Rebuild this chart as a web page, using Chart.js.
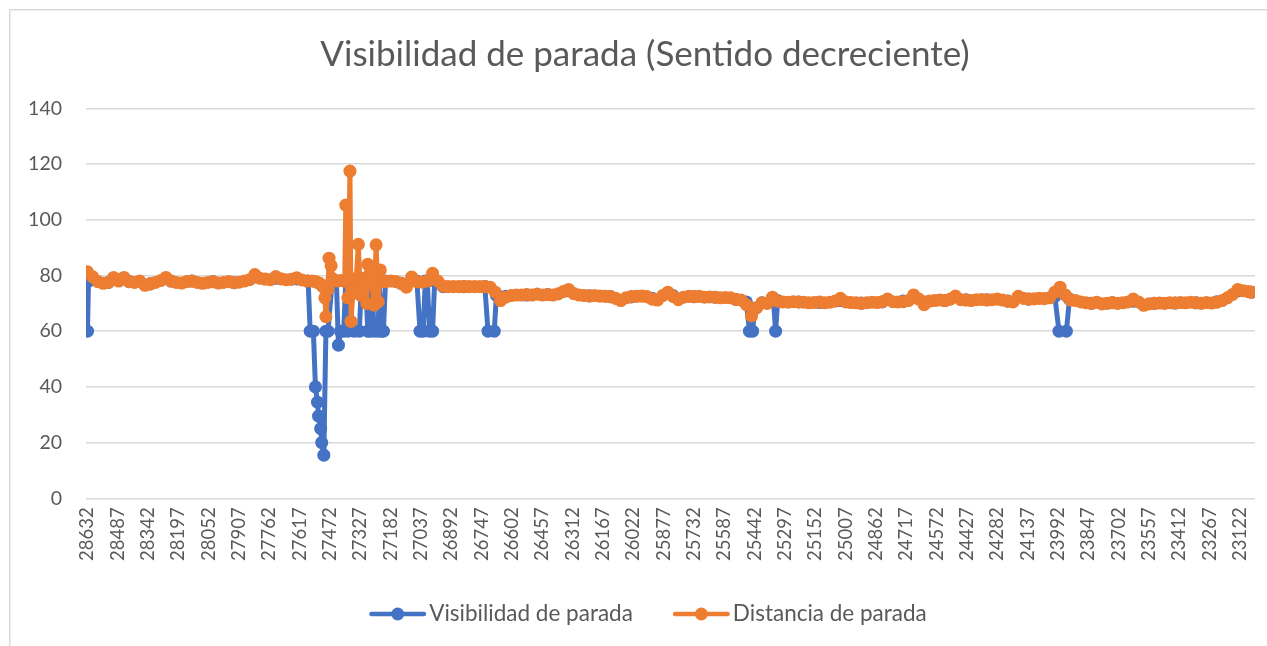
<!DOCTYPE html>
<html>
<head>
<meta charset="utf-8">
<title>Visibilidad de parada (Sentido decreciente)</title>
<script src="https://cdn.jsdelivr.net/npm/chart.js@4.4.1/dist/chart.umd.min.js"></script>
<style>
  html, body { margin: 0; padding: 0; background: #ffffff; overflow: hidden; width: 1267px; height: 646px; }
  #wrap { position: absolute; left: 0; top: 0; width: 1290px; height: 646px; }
</style>
</head>
<body>
<div id="wrap"><canvas id="chart"></canvas></div>
<script>
// Station labels shown on the horizontal axis (every 145 m)
const xTickLabels = [
  28632, 28487, 28342, 28197, 28052, 27907, 27762, 27617, 27472, 27327,
  27182, 27037, 26892, 26747, 26602, 26457, 26312, 26167, 26022, 25877,
  25732, 25587, 25442, 25297, 25152, 25007, 24862, 24717, 24572, 24427,
  24282, 24137, 23992, 23847, 23702, 23557, 23412, 23267, 23122
];

// Distancia de parada: stations (m) and values (m)
const distStations = [
  28632, 28607, 28582, 28557, 28532, 28507, 28482, 28457, 28432, 28407,
  28382, 28357, 28332, 28307, 28282, 28257, 28232, 28207, 28182, 28157,
  28132, 28107, 28082, 28057, 28032, 28007, 27982, 27957, 27932, 27907,
  27882, 27857, 27832, 27807, 27782, 27757, 27732, 27707, 27682, 27657,
  27632, 27607, 27582,
  27557, 27542, 27532, 27522, 27507, 27497, 27492, 27482, 27477, 27467,
  27462, 27442, 27422, 27402, 27397, 27387, 27377, 27372, 27362, 27347,
  27337, 27327, 27312, 27297, 27292, 27282, 27272, 27262, 27252, 27242,
  27232, 27222, 27207,
  27182, 27157, 27132, 27107, 27082, 27057, 27032, 27007, 26982, 26957,
  26932, 26907, 26882, 26857, 26832, 26807, 26782, 26757, 26732, 26707,
  26682, 26657, 26632, 26607, 26582, 26557, 26532, 26507, 26482, 26457,
  26432, 26407, 26382, 26357, 26332, 26307, 26282, 26257, 26232, 26207,
  26182, 26157, 26132, 26107, 26082, 26057, 26032, 26007, 25982, 25957,
  25932, 25907, 25882, 25857, 25832, 25807, 25782, 25757, 25732, 25707,
  25682, 25657, 25632, 25607, 25582, 25557, 25532, 25507, 25482, 25457,
  25432, 25407, 25382, 25357, 25332, 25307, 25282, 25257, 25232, 25207,
  25182, 25157, 25132, 25107, 25082, 25057, 25032, 25007, 24982, 24957,
  24932, 24907, 24882, 24857, 24832, 24807, 24782, 24757, 24732, 24707,
  24682, 24657, 24632, 24607, 24582, 24557, 24532, 24507, 24482, 24457,
  24432, 24407, 24382, 24357, 24332, 24307, 24282, 24257, 24232, 24207,
  24182, 24157, 24132, 24107, 24082, 24057, 24032, 24007, 23982, 23957,
  23932, 23907, 23882, 23857, 23832, 23807, 23782, 23757, 23732, 23707,
  23682, 23657, 23632, 23607, 23582, 23557, 23532, 23507, 23482, 23457,
  23432, 23407, 23382, 23357, 23332, 23307, 23282, 23257, 23232, 23207,
  23182, 23157, 23132, 23107, 23082, 23067
];
const distValues = [
  81.3, 79.5, 77.8, 77.2, 77.5, 79.3, 78, 79.3, 77.8, 77.5,
  78, 76.5, 77, 77.5, 78.2, 79.3, 78, 77.5, 77.3, 77.8,
  78, 77.5, 77.2, 77.5, 77.8, 77.3, 77.5, 77.8, 77.4, 77.6,
  78, 78.5, 80.3, 79, 78.7, 78.5, 79.6, 78.8, 78.5, 78.6,
  79.2, 78.4, 78,
  78, 77.8, 77.5, 77.2, 76, 72, 65.2, 75, 86.2, 83.5,
  79, 78, 78.2, 78, 105.3, 72, 117.5, 63.5, 75, 79,
  91.2, 73, 79, 70, 84, 80.5, 77, 69.4, 91, 70.6,
  82, 78, 77.8,
  78, 77.8, 77.2, 75.8, 79.4, 77.8, 77.6, 78, 80.8, 78,
  76.2, 76, 76, 76, 76, 76, 76, 76, 76, 75.8,
  74, 71, 72.2, 72.8, 73, 73, 73.2, 73, 73.3, 73,
  73.2, 73, 73.4, 74.2, 75, 73.5, 73, 72.8, 72.7, 72.8,
  72.6, 72.5, 72.4, 71.8, 71, 72, 72.4, 72.5, 72.6, 72.4,
  71.5, 71.2, 72.8, 74, 72.5, 71.3, 72.2, 72.5, 72.4, 72.5,
  72.2, 72.3, 72.2, 72, 72.1, 72, 71.4, 71.2, 69.5, 65.5,
  68.5, 70.2, 70, 72.2, 70.8, 70.5, 70.4, 70.6, 70.5, 70.4,
  70.2, 70.3, 70.5, 70.2, 70.4, 70.8, 71.8, 70.5, 70.3, 70.2,
  70, 70.2, 70.4, 70.3, 70.6, 71.5, 70.6, 70.5, 70.6, 71,
  73, 71.5, 69.5, 70.8, 71, 71.2, 71, 71.5, 72.6, 71.3,
  71.2, 71, 71.3, 71.4, 71.2, 71.3, 71.5, 71.2, 70.8, 70.5,
  72.5, 71.8, 71.5, 71.6, 71.8, 71.7, 72, 74, 75.8, 73,
  71.2, 71, 70.5, 70.2, 70, 70.4, 69.8, 70, 70.3, 70,
  70.2, 70.5, 71.5, 70.5, 69.3, 69.8, 70, 70.1, 70, 70.2,
  70.1, 70.3, 70.2, 70.4, 70.2, 70, 70.3, 70.1, 70.4, 71,
  72, 73.2, 75, 74.5, 74.2, 74
];

// Visibilidad de parada: stations (m) and values (m)
const visStations = [
  28632, 28627, 28532, 28432, 28332, 28232, 28132, 28032, 27932, 27832,
  27732, 27632, 27577, 27567, 27552, 27542, 27532, 27527, 27517, 27512,
  27502, 27492, 27482, 27462, 27442, 27432, 27422, 27407, 27397, 27387,
  27357, 27332, 27322, 27302, 27292, 27282, 27272, 27262, 27242, 27237,
  27227, 27217, 27207, 27132, 27057, 27042, 27027, 27017, 27007, 26997,
  26982, 26972, 26932, 26832, 26732, 26717, 26687, 26677, 26632, 26532,
  26432, 26332, 26232, 26132, 26032, 25932, 25832, 25732, 25632, 25532,
  25482, 25467, 25452, 25442, 25407, 25352, 25342, 25332, 25232, 25132,
  25032, 24932, 24832, 24732, 24632, 24532, 24432, 24332, 24232, 24132,
  24007, 23987, 23952, 23937, 23832, 23732, 23632, 23532, 23432, 23332,
  23232, 23132, 23067
];
const visValues = [
  60, 78, 77.5, 77.8, 77, 78, 78, 77.8, 77.4, 79.5,
  79, 78.8, 78, 60, 60, 40, 34.5, 29.5, 25, 20,
  15.5, 60, 60, 78, 78, 55, 60, 60, 78, 60,
  60, 60, 78, 78, 60, 60, 78, 60, 60, 78,
  60, 60, 78, 77.2, 78, 60, 60, 78, 78, 60,
  60, 78, 76, 76, 76, 60, 60, 73, 72.5, 73,
  73.2, 74.5, 72.7, 72.4, 72.3, 71.8, 72.8, 72.4, 72.2, 71.4,
  70.5, 60, 60, 68, 70.2, 71, 60, 71, 70.5, 70.3,
  71, 70.1, 70.5, 70.8, 70.5, 71, 71.3, 71.3, 70.8, 71.5,
  72.5, 60, 60, 71.5, 70, 70.2, 70.8, 70, 70.1, 70.2,
  70.6, 74.5, 74
];

const yTicks = { min: 0, max: 140, step: 20 };

const FONT = 'Lato, "Open Sans", sans-serif';
const TEXT_COLOR = '#595959';
const GRID_COLOR = '#d9d9d9';
const BLUE = '#4472C4';
const ORANGE = '#ED7D31';

function toPoints(stations, values) {
  return stations.map((s, i) => ({ x: s, y: values[i] }));
}

// Light frame of the chart area (left and top edges)
const chartFrame = {
  id: 'chartFrame',
  beforeDraw(chart) {
    const c = chart.ctx;
    c.save();
    c.strokeStyle = GRID_COLOR;
    c.lineWidth = 1.5;
    c.beginPath();
    c.moveTo(9.75, chart.height);
    c.lineTo(9.75, 9.75);
    c.lineTo(chart.width, 9.75);
    c.stroke();
    c.restore();
  }
};

// Legend drawn as line + marker samples, like an office chart legend
const lineMarkerLegend = {
  id: 'lineMarkerLegend',
  afterDraw(chart, args, opts) {
    const c = chart.ctx;
    c.save();
    c.font = `${opts.fontSize}px ${FONT}`;
    const items = chart.data.datasets.map(ds => ({
      text: ds.label,
      color: ds.borderColor,
      w: c.measureText(ds.label).width
    }));
    const total = items.reduce((a, it) => a + opts.sample + opts.textGap + it.w, 0)
      + opts.itemGap * (items.length - 1);
    let x = opts.centerX - total / 2;
    const y = opts.y;
    items.forEach(it => {
      c.strokeStyle = it.color;
      c.lineWidth = opts.lineWidth;
      c.lineCap = 'round';
      c.beginPath();
      c.moveTo(x + opts.lineWidth / 2, y);
      c.lineTo(x + opts.sample - opts.lineWidth / 2, y);
      c.stroke();
      c.fillStyle = it.color;
      c.beginPath();
      c.arc(x + opts.sample / 2, y, opts.markerRadius, 0, Math.PI * 2);
      c.fill();
      x += opts.sample + opts.textGap;
      c.fillStyle = TEXT_COLOR;
      c.textAlign = 'left';
      c.textBaseline = 'middle';
      c.fillText(it.text, x, y);
      x += it.w + opts.itemGap;
    });
    c.restore();
  }
};

new Chart(document.getElementById('chart'), {
  type: 'line',
  data: {
    datasets: [
      {
        label: 'Visibilidad de parada',
        data: toPoints(visStations, visValues),
        borderColor: BLUE,
        backgroundColor: BLUE,
        pointBackgroundColor: BLUE,
        pointBorderColor: BLUE,
        yAxisID: 'y',
        order: 2
      },
      {
        label: 'Distancia de parada',
        data: toPoints(distStations, distValues),
        borderColor: ORANGE,
        backgroundColor: ORANGE,
        pointBackgroundColor: ORANGE,
        pointBorderColor: ORANGE,
        yAxisID: 'y',
        order: 1
      }
    ]
  },
  options: {
    responsive: true,
    maintainAspectRatio: false,
    animation: false,
    events: [],
    layout: { padding: { left: 20, right: 20, top: 10, bottom: 0 } },
    elements: {
      line: { borderWidth: 5, tension: 0, borderJoinStyle: 'round', borderCapStyle: 'round', fill: false },
      point: { radius: 5.8, borderWidth: 1.5, hoverRadius: 5.8 }
    },
    plugins: {
      legend: { display: false },
      tooltip: { enabled: false },
      title: {
        display: true,
        text: 'Visibilidad de parada (Sentido decreciente)',
        color: TEXT_COLOR,
        font: { family: FONT, size: 35, weight: 'normal', lineHeight: 1.2 },
        padding: { top: 24, bottom: 32.4 }
      },
      lineMarkerLegend: {
        centerX: 648, y: 614, fontSize: 22.5,
        sample: 57, textGap: 3, itemGap: 40,
        lineWidth: 4.5, markerRadius: 6.5
      }
    },
    scales: {
      x: {
        type: 'linear',
        reverse: true,
        min: 23050,
        max: 28639,
        grid: { display: false, drawTicks: false },
        border: { display: false },
        afterBuildTicks(scale) {
          scale.ticks = xTickLabels.map(v => ({ value: v }));
        },
        afterFit(scale) {
          scale.height = 147.7;
          scale.paddingLeft = 0;
          scale.paddingRight = 0;
        },
        ticks: {
          autoSkip: false,
          minRotation: 90,
          maxRotation: 90,
          padding: 9,
          color: TEXT_COLOR,
          font: { family: FONT, size: 18.5 },
          callback: v => String(v)
        }
      },
      y: {
        min: yTicks.min,
        max: yTicks.max,
        grid: { color: GRID_COLOR, lineWidth: 1.5, drawTicks: false },
        border: { display: false },
        afterFit(scale) {
          scale.width = 66;
          scale.paddingTop = 0;
          scale.paddingBottom = 0;
        },
        ticks: {
          stepSize: yTicks.step,
          padding: 24,
          color: TEXT_COLOR,
          font: { family: FONT, size: 19.5 }
        }
      },
      // empty right-hand gutter so the plot ends where the page frame is cut
      gutter: {
        type: 'linear',
        position: 'right',
        display: true,
        grid: { display: false, drawTicks: false },
        border: { display: false },
        ticks: { display: false },
        afterFit(scale) {
          scale.width = 15;
          scale.paddingTop = 0;
          scale.paddingBottom = 0;
        }
      }
    }
  },
  plugins: [chartFrame, lineMarkerLegend]
});
</script>
</body>
</html>
